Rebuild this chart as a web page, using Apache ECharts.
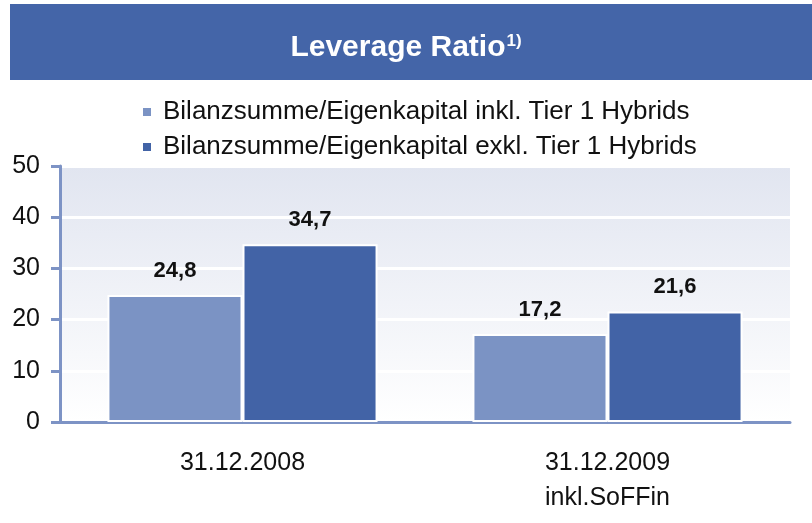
<!DOCTYPE html>
<html>
<head>
<meta charset="utf-8">
<script src="https://cdn.jsdelivr.net/npm/echarts@6/dist/echarts.min.js"></script>
<style>
  html, body { margin: 0; padding: 0; background: #fff; }
  #main { width: 812px; height: 523px; }
</style>
</head>
<body>
<div id="main"></div>
<script>
var categories = ['31.12.2008', '31.12.2009\ninkl.SoFFin']
var inklHybrids = [24.8, 17.2]
var exklHybrids = [34.7, 21.6]
var seriesNames = [
  'Bilanzsumme/Eigenkapital inkl. Tier 1 Hybrids',
  'Bilanzsumme/Eigenkapital exkl. Tier 1 Hybrids'
]

var axisBlue = '#7d93c5'
var fontFam = 'Liberation Sans, Arial, sans-serif'

function fmt(p) {
  return p.value.toFixed(1).replace('.', ',')
}

var myChart = echarts.init(document.getElementById('main'))
myChart.setOption({
  textStyle: { fontFamily: fontFam },
  graphic: [{
    type: 'rect',
    shape: { x: 10, y: 4, width: 802, height: 76 },
    style: { fill: '#4465a8' },
    silent: true
  }],
  title: {
    text: 'Leverage Ratio{sup|1)}',
    left: 'center',
    top: 28,
    textStyle: {
      color: '#fff',
      fontSize: 30,
      fontWeight: 'bold',
      fontFamily: fontFam,
      rich: {
        sup: { color: '#fff', fontSize: 17, fontWeight: 'bold', verticalAlign: 'top', padding: [0, 0, 12, 1] }
      }
    }
  },
  legend: {
    orient: 'vertical',
    left: 136,
    top: 94,
    itemWidth: 10,
    itemHeight: 10,
    itemGap: 9,
    icon: 'rect',
    textStyle: { fontSize: 26, lineHeight: 26, color: '#111', fontFamily: fontFam, padding: [0, 0, 0, 6] },
    data: seriesNames
  },
  grid: {
    left: 60,
    right: 22,
    top: 166,
    bottom: 101,
    show: true,
    borderWidth: 0,
    backgroundColor: new echarts.graphic.LinearGradient(0, 0, 0, 1, [
      { offset: 0, color: '#e1e5f0' },
      { offset: 1, color: '#ffffff' }
    ])
  },
  xAxis: {
    type: 'category',
    data: categories,
    axisLine: { lineStyle: { color: axisBlue, width: 3 } },
    axisTick: { show: false },
    axisLabel: { fontSize: 25, color: '#111', margin: 24, lineHeight: 35, fontFamily: fontFam }
  },
  yAxis: {
    type: 'value',
    min: 0,
    max: 50,
    interval: 10,
    axisLine: { show: true, lineStyle: { color: axisBlue, width: 3 } },
    axisTick: { show: true, length: 9, lineStyle: { color: axisBlue, width: 3 } },
    axisLabel: { fontSize: 25, color: '#111', margin: 20, fontFamily: fontFam },
    splitLine: { show: true, lineStyle: { color: '#ffffff', width: 3 } }
  },
  series: [{
    name: seriesNames[0],
    type: 'bar',
    data: inklHybrids,
    barGap: '0%',
    barCategoryGap: '26%',
    itemStyle: { color: '#7b93c4', borderColor: '#fff', borderWidth: 2 },
    label: {
      show: true,
      position: 'top',
      distance: 13,
      fontSize: 22,
      fontWeight: 'bold',
      color: '#111',
      formatter: fmt
    }
  }, {
    name: seriesNames[1],
    type: 'bar',
    data: exklHybrids,
    itemStyle: { color: '#4263a6', borderColor: '#fff', borderWidth: 2 },
    label: {
      show: true,
      position: 'top',
      distance: 13,
      fontSize: 22,
      fontWeight: 'bold',
      color: '#111',
      formatter: fmt
    }
  }]
})
</script>
</body>
</html>
